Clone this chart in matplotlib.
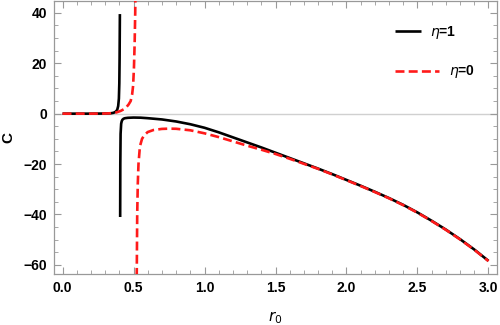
import matplotlib
matplotlib.use("Agg")
import matplotlib.pyplot as plt
from matplotlib.ticker import MultipleLocator

plt.rcParams['font.family'] = ['Liberation Sans', 'DejaVu Sans']

# eta = 1 (black), left branch and right branch of the pole
r_b1 = [0.0, 0.1, 0.2, 0.3, 0.34, 0.36, 0.375, 0.385, 0.392, 0.397, 0.400, 0.402, 0.404]
c_b1 = [0.0, 0.0, 0.0, 0.05, 0.15, 0.35, 0.8, 1.5, 3.0, 6.0, 12.0, 22.0, 39.5]
r_b2 = [0.406, 0.407, 0.409, 0.413, 0.417, 0.422, 0.43, 0.44, 0.46, 0.5, 0.55, 0.6, 0.7, 0.8, 0.9,
        1.0, 1.1, 1.2, 1.3, 1.4, 1.5, 1.6, 1.7, 1.8, 1.9, 2.0, 2.1, 2.2, 2.3, 2.4, 2.5,
        2.6, 2.7, 2.8, 2.9, 3.0]
c_b2 = [-41.0, -20.0, -8.0, -4.0, -3.0, -2.4, -2.0, -1.8, -1.65, -1.55, -1.6, -1.8, -2.3, -3.1, -4.2,
        -5.6, -7.4, -9.4, -11.4, -13.4, -15.5, -17.6, -19.7, -21.8, -24.0, -26.3, -28.6, -31.0, -33.5, -36.2, -39.2,
        -42.5, -46.0, -49.8, -53.9, -58.4]

# eta = 0 (red dashed)
r_r1 = [0.0, 0.1, 0.2, 0.3, 0.35, 0.38, 0.41, 0.43, 0.45, 0.465, 0.48, 0.49, 0.497, 0.503, 0.508, 0.512, 0.515]
c_r1 = [0.0, 0.0, 0.0, 0.05, 0.2, 0.5, 1.1, 1.7, 2.6, 3.6, 5.0, 7.5, 11.0, 18.0, 28.0, 40.0, 55.0]
r_r2 = [0.522, 0.526, 0.53, 0.535, 0.545, 0.56, 0.575, 0.6, 0.64, 0.7, 0.75, 0.8, 0.9,
        1.0, 1.1, 1.2, 1.3, 1.4, 1.5, 1.6, 1.7, 1.8, 1.9, 2.0, 2.1, 2.2, 2.3, 2.4, 2.5,
        2.6, 2.7, 2.8, 2.9, 3.0]
c_r2 = [-70.0, -40.0, -28.0, -20.0, -13.0, -10.0, -8.6, -7.3, -6.5, -6.05, -5.95, -6.0, -6.6,
        -7.8, -9.3, -11.0, -12.7, -14.3, -16.0, -17.9, -19.9, -21.9, -24.1, -26.4, -28.7, -31.1, -33.6, -36.3, -39.3,
        -42.6, -46.1, -49.9, -54.0, -58.5]

fig = plt.figure(figsize=(5.0, 3.25), dpi=100)
ax = fig.add_axes([0.108, 0.157, 0.886, 0.840])

ax.axhline(0, color='#d0d0d0', lw=1.0, zorder=1)
ax.plot(r_b1, c_b1, color='black', lw=1.9, zorder=3, solid_capstyle='butt')
ax.plot(r_b2, c_b2, color='black', lw=1.9, zorder=3, solid_capstyle='butt')
ax.plot(r_r1, c_r1, color='#ff1a1a', lw=1.9, ls=(0, (3.4, 1.6)), zorder=4)
ax.plot(r_r2, c_r2, color='#ff1a1a', lw=1.9, ls=(0, (3.4, 1.6)), zorder=4)

ax.set_xlim(-0.06, 3.06)
ax.set_ylim(-63.6, 44.7)

ax.xaxis.set_major_locator(MultipleLocator(0.5))
ax.xaxis.set_minor_locator(MultipleLocator(0.1))
ax.yaxis.set_major_locator(MultipleLocator(20))
ax.yaxis.set_minor_locator(MultipleLocator(5))
ax.set_xticks([0.0, 0.5, 1.0, 1.5, 2.0, 2.5, 3.0])
ax.set_xticklabels(['0.0', '0.5', '1.0', '1.5', '2.0', '2.5', '3.0'])
ax.set_yticks([-60, -40, -20, 0, 20, 40])
ax.set_yticklabels(['\u221260', '\u221240', '\u221220', '0', '20', '40'])

for sp in ax.spines.values():
    sp.set_color('#999999')
    sp.set_linewidth(0.9)
ax.tick_params(which='both', direction='in', top=True, right=True, color='#999999',
               labelsize=10, pad=5)
ax.tick_params(which='major', length=5, width=0.8)
ax.tick_params(which='minor', length=3, width=0.6)
for lab in ax.get_xticklabels() + ax.get_yticklabels():
    lab.set_fontweight('bold')

ax.set_xlabel(r'$r_0$', fontsize=11, labelpad=10)
ax.set_ylabel('C', fontsize=11, fontweight='bold', labelpad=6)

# legend
ax.plot([0.770, 0.829], [0.890, 0.890], transform=ax.transAxes, color='black', lw=1.9,
        solid_capstyle='butt', clip_on=False)
ax.text(0.849, 0.885, r'$\eta$' + '=1', transform=ax.transAxes, fontsize=10,
        fontweight='bold', va='center', ha='left')
ax.plot([0.770, 0.869], [0.745, 0.745], transform=ax.transAxes, color='#ff1a1a', lw=1.9,
        ls=(0, (3.4, 1.6)), clip_on=False)
ax.text(0.892, 0.740, r'$\eta$' + '=0', transform=ax.transAxes, fontsize=10,
        fontweight='bold', va='center', ha='left')

fig.savefig('out.png', dpi=100)
